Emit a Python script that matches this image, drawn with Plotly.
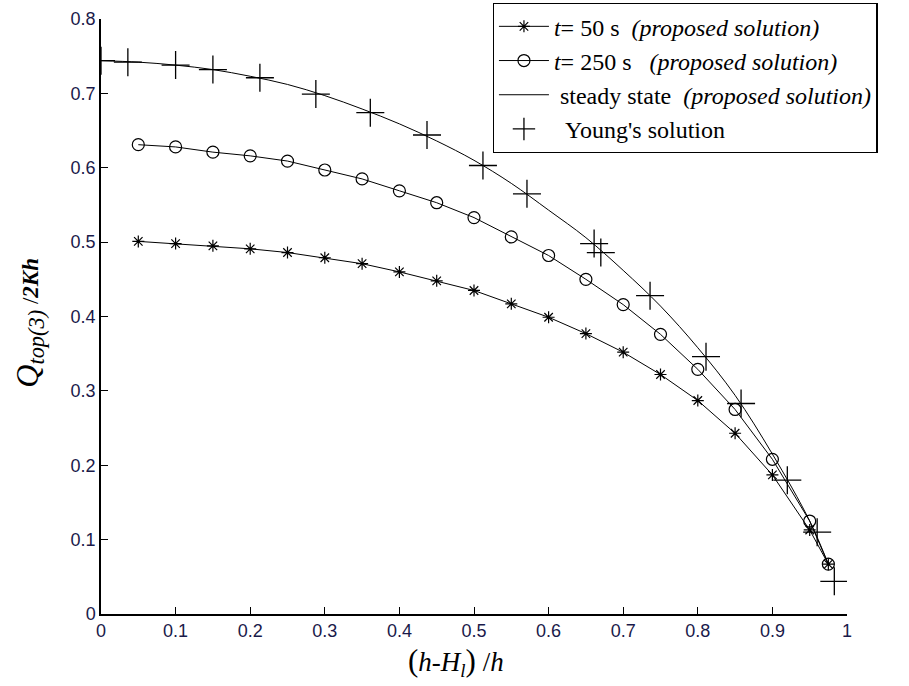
import plotly.graph_objects as go

x_t = [0.05, 0.10, 0.15, 0.20, 0.25, 0.30, 0.35, 0.40, 0.45, 0.50, 0.55, 0.60,
       0.65, 0.70, 0.75, 0.80, 0.85, 0.90, 0.95, 0.975]
y_t50 = [0.501, 0.498, 0.495, 0.491, 0.486, 0.479, 0.471, 0.460, 0.448, 0.435,
         0.417, 0.399, 0.377, 0.352, 0.322, 0.287, 0.243, 0.187, 0.113, 0.067]
y_t250 = [0.631, 0.628, 0.621, 0.616, 0.609, 0.597, 0.585, 0.569, 0.553, 0.533,
          0.507, 0.482, 0.450, 0.416, 0.376, 0.329, 0.275, 0.208, 0.125, 0.067]

x_ss = [0.0, 0.05, 0.10, 0.15, 0.20, 0.25, 0.30, 0.35, 0.40, 0.45, 0.50, 0.55,
        0.60, 0.65, 0.70, 0.75, 0.80, 0.85, 0.90, 0.95, 0.975]
y_ss = [0.744, 0.742, 0.738, 0.732, 0.723, 0.712, 0.697, 0.679, 0.659, 0.636,
        0.610, 0.579, 0.543, 0.506, 0.462, 0.414, 0.358, 0.294, 0.215, 0.125, 0.067]

x_young = [0.0, 0.036, 0.100, 0.150, 0.213, 0.288, 0.361, 0.437, 0.512, 0.571,
           0.661, 0.670, 0.736, 0.811, 0.858, 0.920, 0.960, 0.983]
y_young = [0.744, 0.742, 0.738, 0.732, 0.721, 0.699, 0.674, 0.644, 0.603, 0.565,
           0.498, 0.486, 0.428, 0.346, 0.283, 0.180, 0.110, 0.044]

names = ["<i>t</i>= 50 s  <i>(proposed solution)</i>",
         "<i>t</i>= 250 s   <i>(proposed solution)</i>",
         " steady state  <i>(proposed solution)</i>",
         "  Young's solution"]

fig = go.Figure()
fig.add_trace(go.Scatter(x=x_t, y=y_t50, mode="lines+markers", name=names[0],
                         line=dict(color="black", width=1),
                         marker=dict(symbol="asterisk-open", size=10, color="black",
                                     line=dict(color="black", width=1.2))))
fig.add_trace(go.Scatter(x=x_t, y=y_t250, mode="lines+markers", name=names[1],
                         line=dict(color="black", width=1),
                         marker=dict(symbol="circle-open", size=12, color="black",
                                     line=dict(color="black", width=1.2))))
fig.add_trace(go.Scatter(x=x_ss, y=y_ss, mode="lines", name=names[2],
                         line=dict(color="black", width=1, shape="spline")))
fig.add_trace(go.Scatter(x=x_young, y=y_young, mode="markers", name=names[3],
                         marker=dict(symbol="cross-thin-open", size=20, color="black",
                                     line=dict(color="black", width=1.3))))

tickfont = dict(family="Liberation Sans, Arial", size=18, color="#1a1a4a")
fig.update_xaxes(range=[0, 1], tickvals=[0, 0.1, 0.2, 0.3, 0.4, 0.5, 0.6, 0.7, 0.8, 0.9, 1],
                 ticktext=["0", "0.1", "0.2", "0.3", "0.4", "0.5", "0.6", "0.7", "0.8", "0.9", "1"],
                 ticks="inside", ticklen=7, tickcolor="black", showline=True,
                 linecolor="black", linewidth=1.5, showgrid=False, zeroline=False,
                 tickfont=tickfont)
fig.update_yaxes(range=[0, 0.8], tickvals=[0, 0.1, 0.2, 0.3, 0.4, 0.5, 0.6, 0.7, 0.8],
                 ticktext=["0", "0.1", "0.2", "0.3", "0.4", "0.5", "0.6", "0.7", "0.8"],
                 ticks="inside", ticklen=7, tickcolor="black", showline=True,
                 linecolor="black", linewidth=1.5, showgrid=False, zeroline=False,
                 tickfont=tickfont)

fig.add_annotation(xref="paper", yref="paper", x=-0.097, y=0.489, textangle=-90,
                   xanchor="center", yanchor="middle", showarrow=False,
                   text="<i>Q</i><sub><i>top(3)</i></sub><span style='font-size:23px'> /<b><i>2Kh</i></b></span>",
                   font=dict(family="Liberation Serif, Times New Roman", size=32, color="black"))
fig.add_annotation(xref="paper", yref="paper", x=0.476, y=-0.080, yanchor="middle",
                   xanchor="center", showarrow=False,
                   text="<span style='font-size:31px'>(</span><i>h</i>-<i>H</i><sub><i>l</i></sub><span style='font-size:31px'>)</span> /<i>h</i>",
                   font=dict(family="Liberation Serif, Times New Roman", size=27, color="black"))

fig.update_layout(
    width=909, height=686,
    margin=dict(l=101, r=62, t=19, b=72, autoexpand=False),
    plot_bgcolor="white", paper_bgcolor="white",
    legend=dict(x=0.525, y=1.027, xanchor="left", yanchor="top",
                bordercolor="black", borderwidth=1.3, bgcolor="white",
                font=dict(family="Liberation Serif, Times New Roman", size=24, color="black"),
                tracegroupgap=0, itemwidth=50),
)

fig.write_html("out.html")
